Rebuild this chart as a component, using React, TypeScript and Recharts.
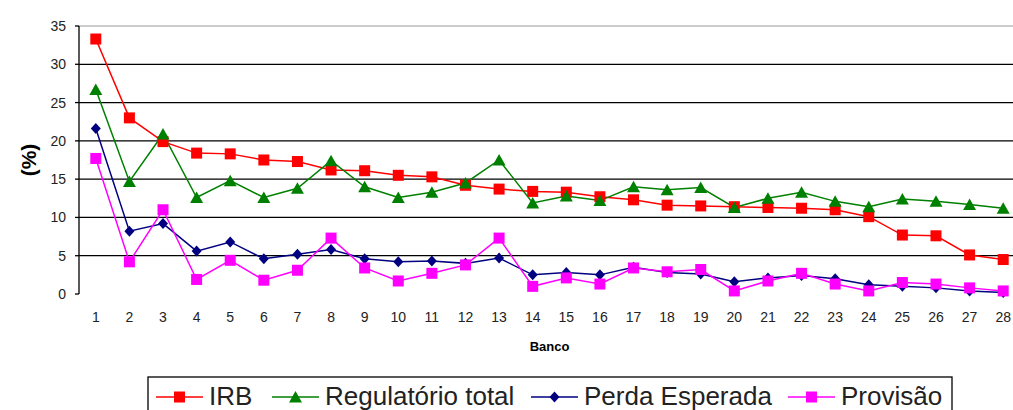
import React from 'react';
import { LineChart, Line, XAxis, YAxis, CartesianGrid, ReferenceLine } from 'recharts';

const banco = [1, 2, 3, 4, 5, 6, 7, 8, 9, 10, 11, 12, 13, 14, 15, 16, 17, 18, 19, 20, 21, 22, 23, 24, 25, 26, 27, 28];
const irb = [33.3, 23.0, 19.9, 18.4, 18.3, 17.5, 17.3, 16.2, 16.1, 15.5, 15.3, 14.2, 13.7, 13.4, 13.3, 12.7, 12.3, 11.6, 11.5, 11.4, 11.3, 11.2, 11.0, 10.1, 7.7, 7.6, 5.1, 4.5];
const regulatorio = [26.7, 14.7, 20.9, 12.6, 14.8, 12.6, 13.8, 17.4, 14.0, 12.6, 13.3, 14.5, 17.5, 11.9, 12.8, 12.2, 14.0, 13.6, 13.9, 11.3, 12.5, 13.3, 12.1, 11.4, 12.4, 12.1, 11.7, 11.2];
const perda = [21.6, 8.2, 9.2, 5.6, 6.8, 4.6, 5.2, 5.8, 4.6, 4.2, 4.3, 4.0, 4.7, 2.5, 2.8, 2.5, 3.5, 2.8, 2.6, 1.6, 2.1, 2.4, 2.0, 1.2, 1.0, 0.8, 0.4, 0.2];
const provisao = [17.7, 4.2, 11.0, 1.9, 4.4, 1.8, 3.1, 7.3, 3.4, 1.7, 2.7, 3.8, 7.3, 1.0, 2.1, 1.3, 3.4, 2.9, 3.2, 0.4, 1.7, 2.7, 1.3, 0.4, 1.5, 1.3, 0.8, 0.4];
const yTicks = [0, 5, 10, 15, 20, 25, 30, 35];
const gridValues = [5, 10, 15, 20, 25, 30];
const seriesNames = ['IRB', 'Regulatório total', 'Perda Esperada', 'Provisão'];
const seriesColors = ['#FF0000', '#008000', '#000080', '#FF00FF'];
const seriesKeys = ['irb', 'regulatorio', 'perda', 'provisao'];
const seriesShapes = ['square', 'triangle', 'diamond', 'square'];

const data = banco.map((b, i) => ({
  banco: b,
  irb: irb[i],
  regulatorio: regulatorio[i],
  perda: perda[i],
  provisao: provisao[i],
}));
const boundaries = [banco[0] - 0.5, ...banco.map((b) => b + 0.5)];

const FONT = '"Liberation Sans", Arial, sans-serif';

function Marker({ shape, color, cx, cy }: { shape: string; color: string; cx: number; cy: number }) {
  if (cx == null || cy == null) return null;
  if (shape === 'square') {
    return <rect x={cx - 5.5} y={cy - 5.5} width={11} height={11} fill={color} />;
  }
  if (shape === 'triangle') {
    return <polygon points={`${cx},${cy - 6} ${cx + 6.5},${cy + 5.5} ${cx - 6.5},${cy + 5.5}`} fill={color} />;
  }
  return <polygon points={`${cx},${cy - 5.5} ${cx + 5},${cy} ${cx},${cy + 5.5} ${cx - 5},${cy}`} fill={color} />;
}

const makeDot = (shape: string, color: string) => (props: any) => (
  <Marker key={`${shape}-${color}-${props.index}`} shape={shape} color={color} cx={props.cx} cy={props.cy} />
);

const legendIconX = [156, 272, 531, 788];

export default function App() {
  return (
    <div style={{ position: 'fixed', left: 0, top: 0, width: 1013, height: 410, overflow: 'hidden', background: '#fff', fontFamily: FONT }}>
      <LineChart width={1040} height={410} data={data} margin={{ top: 26, right: 20, left: 0, bottom: 56 }}>
        <CartesianGrid vertical={false} horizontalValues={gridValues} stroke="#000" strokeWidth={1.3} />
        <ReferenceLine y={35} stroke="#999" strokeWidth={1.2} />
        <XAxis
          xAxisId="edges"
          dataKey="banco"
          type="number"
          domain={[0.5, 28.5]}
          ticks={boundaries}
          tick={false}
          tickSize={5}
          height={0}
          axisLine={{ stroke: '#000', strokeWidth: 1.3 }}
          tickLine={{ stroke: '#000', strokeWidth: 1.3 }}
          allowDataOverflow
        />
        <XAxis
          dataKey="banco"
          type="number"
          domain={[0.5, 28.5]}
          ticks={banco}
          interval={0}
          height={60}
          axisLine={false}
          tickLine={false}
          tickSize={0}
          tickMargin={18}
          tick={{ fontSize: 14, fill: '#222', fontFamily: FONT }}
          label={{ value: 'Banco', position: 'insideBottom', offset: 3, style: { fontSize: 13, fontWeight: 'bold', fill: '#000', fontFamily: FONT } }}
          allowDataOverflow
        />
        <YAxis
          width={79}
          domain={[0, 35]}
          ticks={yTicks}
          interval={0}
          tickSize={4}
          tickMargin={9}
          axisLine={{ stroke: '#000', strokeWidth: 1.3 }}
          tickLine={{ stroke: '#000', strokeWidth: 1.3 }}
          tick={{ fontSize: 14, fill: '#222', fontFamily: FONT }}
          label={(props: any) => {
            const vb = props.viewBox || { x: 0, y: 26, height: 268 };
            const cx = 28;
            const cy = vb.y + vb.height / 2;
            return (
              <text x={cx} y={cy} transform={`rotate(-90, ${cx}, ${cy})`} textAnchor="middle" dominantBaseline="central" fontSize={21} fontWeight="bold" fill="#000" fontFamily={FONT}>
                (%)
              </text>
            );
          }}
        />
        {seriesKeys.map((k, i) => (
          <Line
            key={k}
            dataKey={k}
            name={seriesNames[i]}
            stroke={seriesColors[i]}
            strokeWidth={1.5}
            dot={makeDot(seriesShapes[i], seriesColors[i])}
            activeDot={false}
            isAnimationActive={false}
          />
        ))}
      </LineChart>
      <svg width={1013} height={410} style={{ position: 'absolute', left: 0, top: 0, pointerEvents: 'none' }}>
        <rect x={148} y={377} width={804} height={60} fill="none" stroke="#000" strokeWidth={1.3} />
        {seriesNames.map((n, i) => {
          const x0 = legendIconX[i];
          const cy = 397;
          return (
            <g key={n}>
              <line x1={x0} y1={cy} x2={x0 + 47} y2={cy} stroke={seriesColors[i]} strokeWidth={1.5} />
              <Marker shape={seriesShapes[i]} color={seriesColors[i]} cx={x0 + 23.5} cy={cy} />
              <text x={x0 + 53} y={405} fontSize={26} fill="#222" fontFamily={FONT}>
                {n}
              </text>
            </g>
          );
        })}
      </svg>
    </div>
  );
}
